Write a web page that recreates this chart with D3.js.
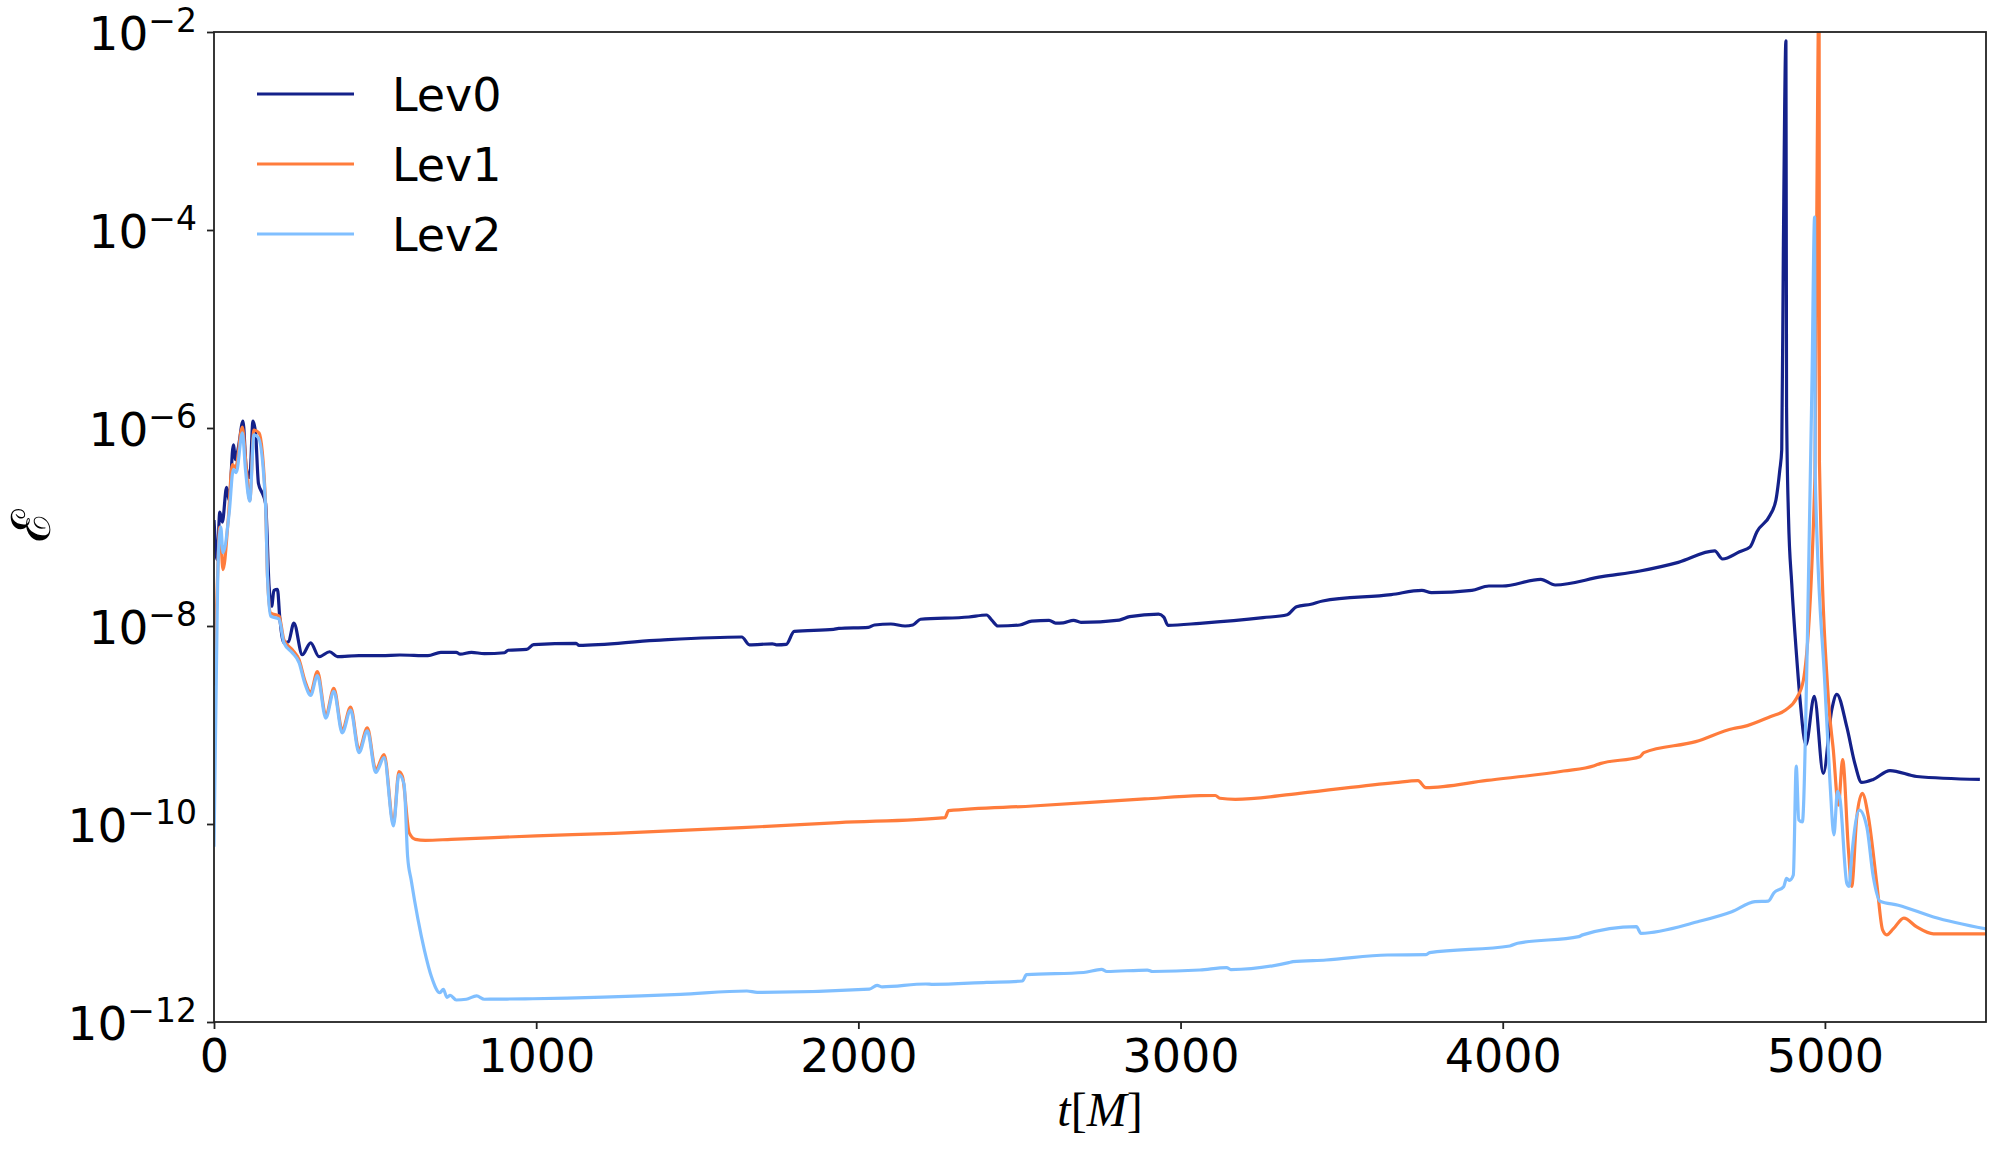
<!DOCTYPE html>
<html>
<head>
<meta charset="utf-8">
<script src="https://cdn.jsdelivr.net/npm/d3@7"></script>
<style>
  body { margin: 0; background: #fff; }
  svg { display: block; }
</style>
</head>
<body>
<div id="chart"></div>
<script>
  // values: time t[M] and log10 of the constraint error
  var lev0T = [0,10,18,26,39,47,60,67,76,90,100,111,121,129,138,150,160,171,179,186,197,204,217,231,248,274,300,326,359,383,450,520,577,664,704,752,764,799,839,902,913,970,992,1124,1132,1369,1638,1662,1733,1746,1776,1801,1923,1939,2031,2050,2101,2145,2169,2193,2343,2398,2414,2433,2501,2538,2592,2612,2636,2668,2691,2810,2842,2932,2948,2961,3060,3256,3331,3360,3405,3441,3654,3749,3779,3904,3957,3999,4118,4163,4308,4426,4545,4658,4682,4735,4768,4789,4830,4848,4860,4866,4871,4879,4881,4887,4897,4912,4923,4941,4967,4995,5021,5037,5068,5093,5114,5150,5202,5285,5481];
  var lev0Exp = [-6.93,-7.33,-6.85,-6.95,-6.6,-6.73,-6.17,-6.32,-6.19,-5.93,-6.4,-6.5,-5.93,-6.05,-6.56,-6.66,-6.76,-7.6,-7.8,-7.64,-7.63,-7.91,-8.17,-8.16,-7.97,-8.29,-8.17,-8.31,-8.26,-8.31,-8.3,-8.3,-8.293,-8.3,-8.266,-8.266,-8.285,-8.266,-8.28,-8.27,-8.245,-8.236,-8.189,-8.175,-8.195,-8.145,-8.111,-8.19,-8.18,-8.19,-8.185,-8.054,-8.034,-8.024,-8.013,-7.99,-7.98,-8.0,-7.99,-7.932,-7.909,-7.889,-7.94,-8.0,-7.99,-7.95,-7.943,-7.97,-7.968,-7.943,-7.963,-7.94,-7.906,-7.88,-7.91,-7.993,-7.973,-7.916,-7.886,-7.805,-7.78,-7.747,-7.683,-7.64,-7.663,-7.64,-7.596,-7.596,-7.529,-7.586,-7.502,-7.444,-7.357,-7.242,-7.323,-7.25,-7.2,-7.047,-6.879,-6.727,-6.424,-6.22,-4.2,-2.09,-5.79,-6.9,-7.57,-8.3,-8.75,-9.2,-8.71,-9.49,-8.85,-8.69,-9.02,-9.39,-9.58,-9.55,-9.46,-9.52,-9.55];

  var lev1T = [0,10,18,28,44,57,67,88,100,111,124,140,160,166,176,202,217,243,264,282,300,321,347,372,398,424,450,476,502,528,557,574,585,606,625,656,736,1000,1242,1638,1939,2269,2280,2541,2889,3060,3108,3122,3170,3369,3666,3737,3761,3951,4189,4284,4302,4426,4438,4599,4716,4747,4830,4878,4912,4933,4969,4974,4982,4983,5011,5026,5042,5055,5073,5083,5099,5116,5135,5161,5179,5192,5212,5245,5285,5337,5500];
  var lev1Exp = [-8.6,-7.6,-7.0,-7.43,-6.93,-6.37,-6.4,-5.99,-6.4,-6.73,-6.02,-6.05,-6.76,-7.5,-7.87,-7.9,-8.14,-8.24,-8.34,-8.55,-8.67,-8.46,-8.9,-8.63,-9.05,-8.82,-9.25,-9.03,-9.45,-9.3,-9.99,-9.47,-9.52,-10.09,-10.155,-10.165,-10.155,-10.12,-10.094,-10.037,-9.986,-9.935,-9.865,-9.818,-9.747,-9.714,-9.712,-9.74,-9.751,-9.69,-9.582,-9.562,-9.633,-9.56,-9.465,-9.411,-9.39,-9.32,-9.279,-9.168,-9.035,-9.017,-8.916,-8.848,-8.73,-8.55,-6.49,-4.2,-1.5,-6.34,-8.75,-9.25,-9.81,-9.35,-10.26,-10.63,-9.93,-9.69,-9.93,-10.6,-11.07,-11.12,-11.06,-10.95,-11.04,-11.11,-11.11];

  var lev2T = [0,7,13,21,28,47,60,69,88,98,111,124,138,160,166,176,202,217,243,264,282,300,321,347,372,398,424,450,476,502,528,557,574,590,601,612,653,675,701,712,723,733,752,783,815,839,910,989,1448,1654,1686,2034,2058,2074,2209,2232,2398,2509,2522,2699,2755,2771,2897,2913,3060,3143,3156,3336,3349,3452,3642,3761,3773,4022,4046,4236,4248,4415,4429,4605,4711,4783,4824,4842,4872,4881,4890,4902,4911,4919,4930,4945,4960,4968,4970,5000,5016,5028,5039,5047,5068,5075,5083,5107,5130,5150,5171,5228,5337,5500];
  var lev2Exp = [-10.23,-8.55,-7.33,-7.0,-7.26,-6.86,-6.42,-6.45,-6.05,-6.43,-6.74,-6.07,-6.1,-6.78,-7.5,-7.9,-7.93,-8.17,-8.27,-8.37,-8.58,-8.7,-8.5,-8.93,-8.66,-9.08,-8.85,-9.28,-9.06,-9.48,-9.33,-10.02,-9.5,-9.6,-10.33,-10.566,-11.273,-11.542,-11.704,-11.67,-11.751,-11.73,-11.778,-11.77,-11.737,-11.77,-11.768,-11.765,-11.72,-11.687,-11.7,-11.667,-11.63,-11.645,-11.616,-11.62,-11.6,-11.586,-11.522,-11.5,-11.468,-11.49,-11.475,-11.49,-11.475,-11.45,-11.47,-11.4,-11.39,-11.374,-11.323,-11.32,-11.3,-11.232,-11.205,-11.138,-11.12,-11.037,-11.104,-10.987,-10.886,-10.785,-10.78,-10.694,-10.633,-10.549,-10.57,-10.515,-9.414,-9.96,-9.98,-8.24,-5.5,-3.87,-6.49,-8.6,-9.59,-10.11,-9.67,-9.75,-10.6,-10.63,-10.33,-9.86,-10.03,-10.53,-10.78,-10.82,-10.94,-11.06];

  var names = ["Lev0", "Lev1", "Lev2"];
  var colors = ["#14218a", "#ff7c3c", "#80bfff"];
  var xTicks = [0, 1000, 2000, 3000, 4000, 5000];
  var yTickExp = [-12, -10, -8, -6, -4, -2];

  var width = 2000, height = 1152;
  var pL = 214, pR = 1986, pT = 32, pB = 1022;

  var svg = d3.select("#chart").append("svg")
    .attr("width", width)
    .attr("height", height)
    .style("font-family", "'DejaVu Sans', sans-serif");

  var x = d3.scaleLinear().domain([0, 5500]).range([pL, pR]);
  var y = d3.scaleLog().domain([1e-12, 1e-2]).range([pB, pT]);

  svg.append("clipPath").attr("id", "plotclip")
    .append("rect")
    .attr("x", pL).attr("y", pT)
    .attr("width", pR - pL).attr("height", pB - pT);

  function makeSeries(ts, es) {
    return ts.map(function(t, i) { return {t: t, v: Math.pow(10, es[i])}; });
  }
  var series = [
    makeSeries(lev0T, lev0Exp),
    makeSeries(lev1T, lev1Exp),
    makeSeries(lev2T, lev2Exp)
  ];

  var line = d3.line()
    .curve(d3.curveMonotoneX)
    .x(function(d) { return x(d.t); })
    .y(function(d) { return y(d.v); });

  svg.append("g").attr("clip-path", "url(#plotclip)")
    .selectAll("path").data(series).enter().append("path")
    .attr("d", line)
    .attr("fill", "none")
    .attr("stroke", function(d, i) { return colors[i]; })
    .attr("stroke-width", 3.2)
    .attr("stroke-linejoin", "round");

  // axes
  var xAxis = svg.append("g")
    .attr("transform", "translate(0," + pB + ")")
    .call(d3.axisBottom(x).tickValues(xTicks).tickSize(7).tickPadding(10).tickFormat(d3.format("d")));
  xAxis.select(".domain").remove();
  xAxis.selectAll("line").attr("stroke", "#222").attr("stroke-width", 1.8);
  xAxis.selectAll("text").attr("font-size", 46).attr("fill", "#000")
    .style("font-family", "'DejaVu Sans', sans-serif");

  var yAxis = svg.append("g")
    .attr("transform", "translate(" + pL + ",0)")
    .call(d3.axisLeft(y).tickValues(yTickExp.map(function(e) { return Math.pow(10, e); }))
      .tickSize(7).tickPadding(10).tickFormat(function() { return ""; }));
  yAxis.select(".domain").remove();
  yAxis.selectAll("line").attr("stroke", "#222").attr("stroke-width", 1.8);
  yAxis.selectAll(".tick text").each(function(d, i) {
    var t = d3.select(this).attr("x", -17).attr("dy", null).attr("y", 17)
      .attr("text-anchor", "end").attr("fill", "#000")
      .style("font-family", "'DejaVu Sans', sans-serif");
    t.append("tspan").attr("font-size", 47).text("10");
    t.append("tspan").attr("font-size", 33).attr("dy", -18)
      .text("\u2212" + Math.round(-Math.log10(d)));
  });

  // frame
  svg.append("rect")
    .attr("x", pL).attr("y", pT)
    .attr("width", pR - pL).attr("height", pB - pT)
    .attr("fill", "none").attr("stroke", "#222").attr("stroke-width", 1.8);

  // axis labels
  var xl = svg.append("text")
    .attr("x", (pL + pR) / 2).attr("y", 1126)
    .attr("text-anchor", "middle")
    .attr("font-size", 48)
    .style("font-family", "'Liberation Serif', 'DejaVu Serif', serif");
  xl.append("tspan").attr("font-style", "italic").text("t");
  xl.append("tspan").text("[");
  xl.append("tspan").attr("font-style", "italic").text("M");
  xl.append("tspan").text("]");

  svg.append("text")
    .attr("transform", "translate(50,525) rotate(-90)")
    .attr("text-anchor", "middle")
    .attr("font-size", 54)
    .style("font-family", "'DejaVu Serif', serif")
    .text("\u2130");

  // legend
  var legend = svg.append("g");
  names.forEach(function(n, i) {
    var ly = 94 + i * 70;
    legend.append("line")
      .attr("x1", 257).attr("x2", 354)
      .attr("y1", ly).attr("y2", ly)
      .attr("stroke", colors[i]).attr("stroke-width", 3.2);
    legend.append("text")
      .attr("x", 392).attr("y", ly + 17)
      .attr("font-size", 46).attr("fill", "#000")
      .text(n);
  });
</script>
</body>
</html>
